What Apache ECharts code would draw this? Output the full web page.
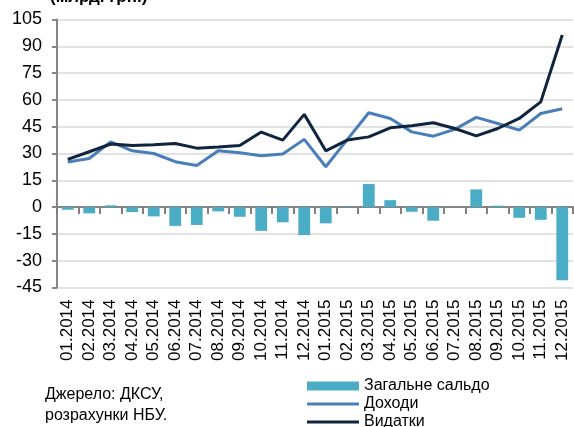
<!DOCTYPE html>
<html>
<head>
<meta charset="utf-8">
<script src="https://cdn.jsdelivr.net/npm/echarts@6/dist/echarts.min.js"></script>
<style>
  html, body { margin: 0; padding: 0; background: #fff; }
  #chart { width: 574px; height: 427px; }
</style>
</head>
<body>
<div id="chart"></div>
<script>
// місяці
const months = [
  '01.2014', '02.2014', '03.2014', '04.2014', '05.2014', '06.2014',
  '07.2014', '08.2014', '09.2014', '10.2014', '11.2014', '12.2014',
  '01.2015', '02.2015', '03.2015', '04.2015', '05.2015', '06.2015',
  '07.2015', '08.2015', '09.2015', '10.2015', '11.2015', '12.2015'
];
// Загальне сальдо
const saldo = [-1.5, -3.5, 1, -2.8, -5.2, -10.5, -10, -2.4, -5.4, -13.3, -8.5, -15.7,
  -9.1, 0.3, 12.9, 3.9, -2.6, -7.6, 0, 9.9, 0.8, -6, -7.1, -40.9];
// Доходи
const income = [25.2, 27.2, 36.5, 31.5, 30, 25.4, 23.3, 31.5, 30.4, 28.7, 29.7, 37.9,
  22.6, 37.8, 52.8, 49.6, 42.1, 39.7, 43.5, 50.2, 46.8, 43.1, 52.4, 55];
// Видатки
const spending = [26.7, 31, 35.3, 34.5, 34.9, 35.6, 33, 33.7, 34.5, 42, 37.5, 51.9,
  31.5, 37.5, 39.3, 44.4, 45.5, 47.2, 44, 39.9, 44, 49.6, 58.9, 96.3];

const font = 'Liberation Sans, Arial, sans-serif';
const chart = echarts.init(document.getElementById('chart'));

// одна легенда на рядок, щоб не переносилось у колонки
const legendRow = (name, top, h) => ({
  left: 307, top: top,
  padding: 0,
  itemWidth: 52,
  itemHeight: h,
  icon: 'rect',
  textStyle: {fontSize: 16, lineHeight: 16, color: '#000', fontFamily: font},
  data: [name]
});

chart.setOption({
  animation: false,
  textStyle: {fontFamily: font},
  grid: {left: 57, right: 1, top: 19.5, bottom: 139.5},
  graphic: [
    {
      type: 'text', left: 50, top: -11,
      style: {text: '(млрд. грн.)', font: 'bold 17px ' + font, fill: '#000'}
    },
    {
      type: 'text', left: 45, top: 384,
      style: {text: 'Джерело: ДКСУ,\nрозрахунки НБУ.', font: '16px ' + font, lineHeight: 21, fill: '#000'}
    }
  ],
  legend: [
    legendRow('Загальне сальдо', 378, 9),
    legendRow('Доходи', 396, 3),
    legendRow('Видатки', 414, 3)
  ],
  xAxis: [
    {
      // лінія нуля з рисками між місяцями
      type: 'category',
      data: months,
      position: 'top',
      axisLine: {onZero: true, lineStyle: {color: '#868686', width: 2}},
      axisTick: {show: true, inside: true, interval: 0, length: 7, lineStyle: {color: '#808080', width: 2}},
      axisLabel: {show: false, interval: 0}
    },
    {
      // підписи місяців унизу
      type: 'category',
      data: months,
      position: 'bottom',
      axisLine: {show: false, onZero: false},
      axisTick: {show: false},
      axisLabel: {rotate: 90, margin: 12, fontSize: 17, color: '#000', fontFamily: font, interval: 0}
    }
  ],
  yAxis: {
    type: 'value',
    min: -45, max: 105, interval: 15,
    axisLine: {show: true, lineStyle: {color: '#868686', width: 2}},
    axisTick: {show: true, length: 5, lineStyle: {color: '#868686', width: 2}},
    axisLabel: {fontSize: 18, color: '#000', margin: 15, fontFamily: font},
    splitLine: {lineStyle: {color: '#d9d9d9', width: 1.5}}
  },
  series: [
    {
      name: 'Загальне сальдо',
      type: 'bar',
      data: saldo,
      barCategoryGap: '45%',
      itemStyle: {color: '#4bacc6'}
    },
    {
      name: 'Доходи',
      type: 'line',
      data: income,
      symbol: 'none',
      lineStyle: {color: '#4a7ebb', width: 3},
      itemStyle: {color: '#4a7ebb'}
    },
    {
      name: 'Видатки',
      type: 'line',
      data: spending,
      symbol: 'none',
      lineStyle: {color: '#0f243e', width: 3},
      itemStyle: {color: '#0f243e'}
    }
  ]
});
</script>
</body>
</html>
